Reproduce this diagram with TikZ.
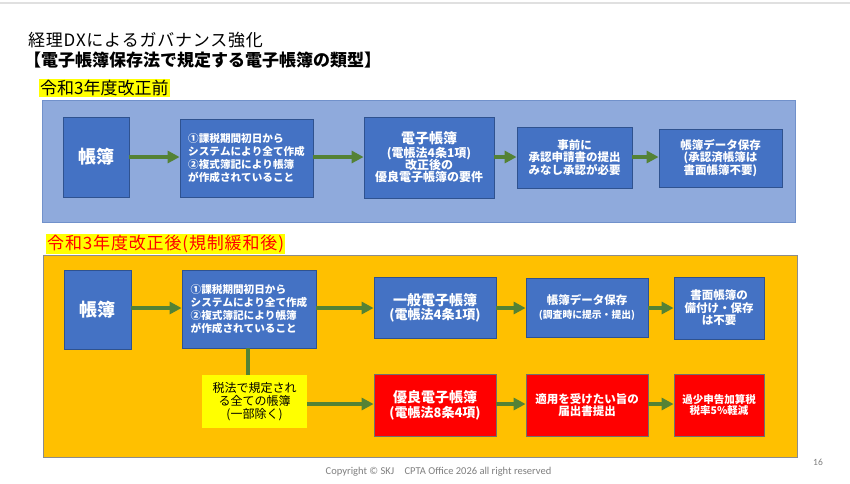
\documentclass[tikz,border=0pt]{standalone}
\usepackage{fontspec}
\setmainfont{Noto Sans CJK JP}[Kerning=Off]
\newfontfamily\footfont{Carlito}
\usetikzlibrary{arrows.meta}
\definecolor{toppanel}{HTML}{8FAADC}
\definecolor{toppanelb}{HTML}{7191CB}
\definecolor{boxblue}{HTML}{4472C4}
\definecolor{boxblueb}{HTML}{2F528F}
\definecolor{arrgreen}{HTML}{548235}
\definecolor{gold}{HTML}{FFC000}
\definecolor{goldb}{HTML}{8C8C8C}
\definecolor{redbox}{HTML}{FF0000}
\definecolor{redboxb}{HTML}{707070}
\definecolor{hl}{HTML}{FFFF00}
\definecolor{footgray}{HTML}{7F7F7F}
\newcommand{\fs}[1]{\fontsize{#1pt}{\dimexpr #1pt*5/4\relax}\selectfont}
\tikzset{
  bluebox/.style={draw=boxblueb, fill=boxblue, text=white, font=\bfseries, align=center, inner sep=0pt, line width=0.8pt},
  redb/.style={draw=redboxb, fill=redbox, text=white, font=\bfseries, align=center, inner sep=0pt, line width=0.8pt},
  arr/.style={draw=arrgreen, line width=4pt, -{Triangle[length=12pt,width=12pt]}},
  conn/.style={draw=arrgreen, line width=4pt},
  label/.style={fill=hl, inner xsep=1pt, inner ysep=1pt, anchor=west}
}
\begin{document}
\begin{tikzpicture}[x=1pt,y=-1pt]
\useasboundingbox (0,0) rectangle (850,483);
\fill[white] (0,0) rectangle (850,483);
\draw[draw=black!12, line width=1.5pt] (0,3) -- (850,3);
% titles
\node[anchor=west, inner sep=0pt, font=\fs{17}\addfontfeatures{LetterSpace=4.2}] (t1) at (28,40) {経理DXによるガバナンス強化};
\node[anchor=west, inner sep=0pt, font=\fs{17}\bfseries] (t2) at (24,60) {【電子帳簿保存法で規定する電子帳簿の類型】};
\node[label, font=\fs{17}] (l1) at (39,88) {令和3年度改正前};
% top panel
\node[draw=toppanelb, fill=toppanel, line width=1pt, minimum width=753pt, minimum height=122pt, inner sep=0pt] (p1) at (418.5,161) {};
\node[label, font=\fs{17}\addfontfeatures{LetterSpace=5}, text=red] (l2) at (46,244) {令和3年度改正後(規制緩和後)};
% bottom panel
\node[draw=goldb, fill=gold, line width=1pt, minimum width=754pt, minimum height=202pt, inner sep=0pt] (p2) at (420,356) {};
% top row
\node[bluebox, minimum width=66pt, minimum height=80pt, font=\fs{18}\bfseries] (A1) at (96,157) {帳簿};
\node[bluebox, minimum width=133pt, minimum height=78pt, align=left, font=\fs{10.6}\bfseries] (A2) at (246.5,158) {①課税期間初日から\\[-0.5pt]システムにより全て作成\\[-0.5pt]②複式簿記により帳簿\\[-0.5pt]が作成されていること};
\node[bluebox, minimum width=130pt, minimum height=81pt, font=\fs{12}\bfseries] (A3) at (429,157.5) {{\fs{14}\bfseries 電子帳簿}\\[-1pt](電帳法4条1項)\\[-3pt]改正後の\\[-3pt]優良電子帳簿の要件};
\node[bluebox, minimum width=115pt, minimum height=61pt, font=\fs{11.5}\bfseries] (A4) at (574.5,157.5) {事前に\\[-2pt]承認申請書の提出\\[-2pt]みなし承認が必要};
\node[bluebox, minimum width=123pt, minimum height=58pt, font=\fs{11.5}\bfseries] (A5) at (720.5,158) {帳簿データ保存\\[-2pt](承認済帳簿は\\[-2pt]書面帳簿不要)};
\draw[arr] (A1.east |- 0,157) -- (A2.west |- 0,157);
\draw[arr] (A2.east |- 0,157) -- (A3.west |- 0,157);
\draw[arr] (A3.east |- 0,157) -- (A4.west |- 0,157);
\draw[arr] (A4.east |- 0,157) -- (A5.west |- 0,157);
% bottom row
\node[bluebox, minimum width=67pt, minimum height=79pt, font=\fs{18}\bfseries] (B1) at (97.5,309.5) {帳簿};
\node[bluebox, minimum width=134pt, minimum height=78pt, align=left, font=\fs{10.6}\bfseries] (B2) at (249,309) {①課税期間初日から\\[-0.5pt]システムにより全て作成\\[-0.5pt]②複式簿記により帳簿\\[-0.5pt]が作成されていること};
\node[bluebox, minimum width=122pt, minimum height=61pt, font=\fs{13}\bfseries] (B3) at (435,307.5) {{\fs{14}\bfseries 一般電子帳簿}\\[-2pt](電帳法4条1項)};
\node[bluebox, minimum width=122pt, minimum height=59pt, font=\fs{11.5}\bfseries] (B4) at (587,307.5) {帳簿データ保存\\[-1pt]{\fs{9.8}\bfseries (調査時に提示・提出)}};
\node[bluebox, minimum width=90pt, minimum height=62pt, font=\fs{11.5}\bfseries] (B5) at (719,308) {書面帳簿の\\[-2pt]備付け・保存\\[-2pt]は不要};
\draw[arr] (B1.east |- 0,308) -- (B2.west |- 0,308);
\draw[arr] (B2.east |- 0,308) -- (B3.west |- 0,308);
\draw[arr] (B3.east |- 0,308) -- (B4.west |- 0,308);
\draw[arr] (B4.east |- 0,308) -- (B5.west |- 0,308);
% third row
\node[fill=hl, minimum width=105pt, minimum height=53pt, inner sep=0pt, align=center, font=\fs{12}] (C0) at (254.5,401.5) {税法で規定され\\[-2pt]る全ての帳簿\\[-2pt](一部除く)};
\node[redb, minimum width=122pt, minimum height=62pt, font=\fs{13}\bfseries] (C1) at (435,405) {{\fs{14}\bfseries 優良電子帳簿}\\[-1pt](電帳法8条4項)};
\node[redb, minimum width=122pt, minimum height=62pt, font=\fs{11.5}\bfseries] (C2) at (587,405) {適用を受けたい旨の\\[-2pt]届出書提出};
\node[redb, minimum width=90pt, minimum height=62pt, font=\fs{10.5}\bfseries] (C3) at (719,405) {過少申告加算税\\[-2pt]税率5\%軽減};
\draw[conn] (B2.south -| 248,0) -- (C0.north -| 248,0);
\draw[arr] (C0.east |- 0,404) -- (C1.west |- 0,404);
\draw[arr] (C1.east |- 0,404) -- (C2.west |- 0,404);
\draw[arr] (C2.east |- 0,404) -- (C3.west |- 0,404);
% footer
\node[font=\footfont\fs{10.5}, text=footgray, inner sep=0pt] (ft) at (438.5,472) {Copyright © SKJ\hspace{1em}CPTA Office 2026 all right reserved};
\node[font=\footfont\fs{9.5}, text=footgray, inner sep=0pt] (pg) at (818,462) {16};
\end{tikzpicture}
\end{document}
